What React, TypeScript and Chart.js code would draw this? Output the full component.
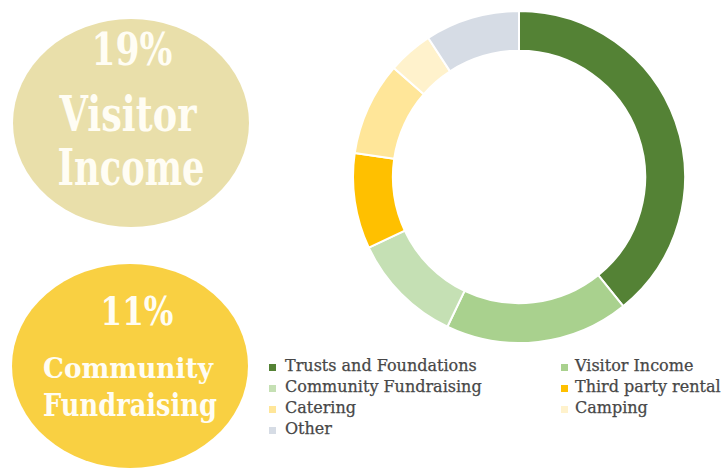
import React, { useEffect, useRef } from "react";
import { Chart, registerables } from "chart.js";

Chart.register(...registerables);

// ---- data ----
const labels = [
  "Trusts and Foundations",
  "Visitor Income",
  "Community Fundraising",
  "Third party rental",
  "Catering",
  "Camping",
  "Other",
];
const values = [39.2, 17.9, 10.9, 9.3, 9.1, 4.4, 9.2];
const colors = ["#548235", "#A9D18E", "#C5E0B4", "#FFC000", "#FFE699", "#FFF2CC", "#D6DCE5"];
const highlightIndices = [1, 2];
const highlightPercents = [19, 11];

// ---- styling / layout ----
const FONT = '"DejaVu Serif", "Liberation Serif", serif';
const bubbleColors = ["#E9DFAA", "#F9D042"];
const bubbles = [
  { cx: 131, cy: 123, rx: 118, ry: 104 },
  { cx: 130, cy: 366, rx: 118, ry: 102 },
];
const bubbleLines = [
  [
    { cx: 132, baseline: 65, width: 81, cap: 32 },
    { cx: 128, baseline: 132, width: 137, cap: 35 },
    { cx: 131, baseline: 185, width: 147, cap: 37 },
  ],
  [
    { cx: 137, baseline: 325, width: 73, cap: 28 },
    { cx: 128, baseline: 378, width: 170, cap: 21 },
    { cx: 130, baseline: 417, width: 174, cap: 23 },
  ],
];

let mctx: CanvasRenderingContext2D | null = null;
function measure(text: string, size: number): number {
  if (!mctx) mctx = document.createElement("canvas").getContext("2d");
  if (!mctx) return text.length * size * 0.6;
  mctx.font = `bold ${size}px ${FONT}`;
  return mctx.measureText(text).width;
}

function FitLine(props: { text: string; cx: number; baseline: number; width: number; cap: number }) {
  const { text, cx, baseline, width, cap } = props;
  const base = 40;
  const size = (base * width) / measure(text, base);
  const sy = cap / (0.729 * size);
  const asc = 0.846 * size;
  return (
    <div
      style={{
        position: "absolute",
        left: cx - 300,
        width: 600,
        top: baseline - asc,
        height: size,
        fontSize: size,
        lineHeight: `${size}px`,
        fontFamily: FONT,
        fontWeight: "bold",
        color: "#FFFDF4",
        textAlign: "center",
        whiteSpace: "nowrap",
        transform: `scaleY(${sy})`,
        transformOrigin: `50% ${asc}px`,
      }}
    >
      {text}
    </div>
  );
}

function LegendItem(props: { label: string; color: string; col: number; row: number }) {
  const { label, color, col, row } = props;
  const legendBaseline0 = 372;
  const legendRowGap = 21;
  const legendBoxX = [269, 561];
  const legendTextX = [285, 575];
  const baseline = legendBaseline0 + row * legendRowGap;
  const size = 16;
  return (
    <>
      <div
        style={{
          position: "absolute",
          left: legendBoxX[col],
          top: baseline - 8,
          width: 7,
          height: 7,
          background: color,
        }}
      />
      <div
        style={{
          position: "absolute",
          left: legendTextX[col],
          top: baseline - 0.846 * size,
          fontSize: size,
          lineHeight: `${size}px`,
          fontFamily: FONT,
          color: "#474747",
          whiteSpace: "nowrap",
          WebkitTextStroke: "0.25px #474747",
        }}
      >
        {label}
      </div>
    </>
  );
}

export default function App() {
  const canvasRef = useRef<HTMLCanvasElement | null>(null);

  useEffect(() => {
    document.body.style.margin = "0";
    const canvas = canvasRef.current;
    if (!canvas) return;
    const chart = new Chart(canvas, {
      type: "doughnut",
      data: {
        labels,
        datasets: [
          {
            data: values,
            backgroundColor: colors,
            borderColor: "#FFFFFF",
            borderWidth: 2,
            hoverOffset: 0,
            offset: 0,
          },
        ],
      },
      options: {
        animation: false,
        responsive: true,
        maintainAspectRatio: false,
        cutout: "76%",
        layout: { padding: 0 },
        plugins: {
          legend: { display: false },
          tooltip: { enabled: false },
          title: { display: false },
        },
      },
    });
    return () => chart.destroy();
  }, []);

  return (
    <div
      style={{
        position: "fixed",
        left: 0,
        top: 0,
        width: 722,
        height: 468,
        background: "#FFFFFF",
        overflow: "hidden",
      }}
    >
      {bubbles.map((b, i) => (
        <div
          key={"b" + i}
          style={{
            position: "absolute",
            left: b.cx - b.rx,
            top: b.cy - b.ry,
            width: b.rx * 2,
            height: b.ry * 2,
            borderRadius: "50%",
            background: bubbleColors[i],
          }}
        />
      ))}
      {highlightIndices.map((idx, i) => {
        const words = labels[idx].split(" ");
        const texts = [`${highlightPercents[i]}%`, words[0], words.slice(1).join(" ")];
        return texts.map((t, j) => <FitLine key={`t${i}-${j}`} text={t} {...bubbleLines[i][j]} />);
      })}
      <div style={{ position: "absolute", left: 352, top: 10, width: 334, height: 334 }}>
        <canvas ref={canvasRef} />
      </div>
      {labels.map((lab, i) => (
        <LegendItem key={"l" + i} label={lab} color={colors[i]} col={i % 2} row={Math.floor(i / 2)} />
      ))}
    </div>
  );
}
